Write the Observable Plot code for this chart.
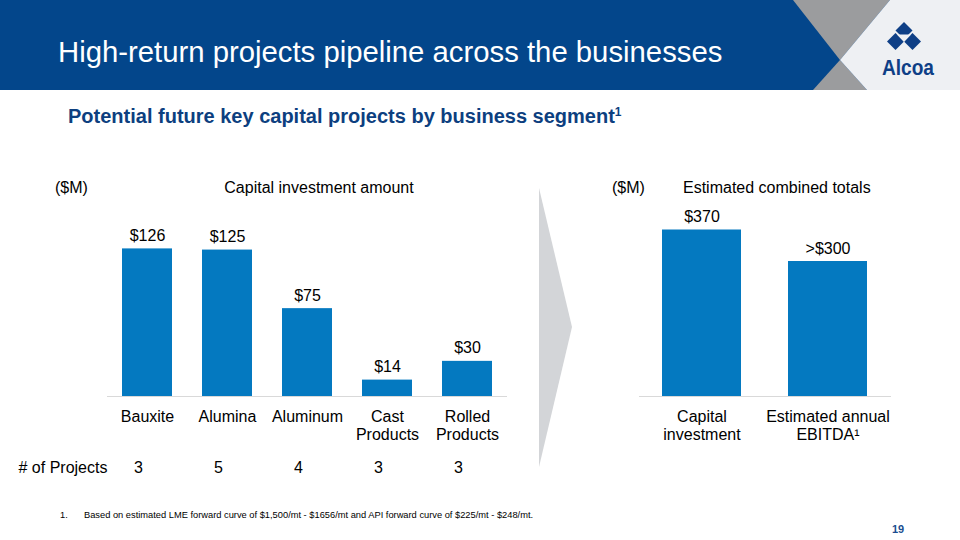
<!DOCTYPE html>
<html><head><meta charset="utf-8">
<script src="https://cdn.jsdelivr.net/npm/d3@7"></script>
<script src="https://cdn.jsdelivr.net/npm/@observablehq/plot@0.6"></script>
<style>
body{margin:0;background:#fff;font-family:"Liberation Sans",Arial,sans-serif;}
#page{position:relative;width:960px;height:540px;overflow:hidden;background:#fff;}
.abs{position:absolute;white-space:nowrap;line-height:1;}
sup{font-size:60%;vertical-align:0;position:relative;top:-0.55em;}
</style></head><body>
<div id="page">
<svg width="960" height="540" style="position:absolute;left:0;top:0">
  <rect x="0" y="0" width="960" height="90" fill="#03468b"/>
  <polygon points="793,0 890,0 840,60" fill="#9b9c9e"/>
  <polygon points="840,60 813,90 867,90" fill="#9b9c9e"/>
  <polygon points="890,0 960,0 960,90 867,90 840,60" fill="#eef0f3"/>
  <polygon points="904,22 912.5,30.5 904,39 895.5,30.5" fill="#0e3f86"/>
  <polygon points="895.5,33 904,41.5 895.5,50 887,41.5" fill="#0e3f86"/>
  <polygon points="912.5,33 921,41.5 912.5,50 904,41.5" fill="#0e3f86"/>
  <polygon points="897,34.5 911,34.5 904,42" fill="#eef0f3"/>
  <text x="882" y="75" font-family="Liberation Sans, Arial, sans-serif" font-weight="bold" font-size="22" fill="#0e3f86" textLength="52" lengthAdjust="spacingAndGlyphs">Alcoa</text>
  <polygon points="539,188 572,327 539,467" fill="#d3d5d8"/>
</svg>
<div class="abs" style="left:58px;top:37px;font-size:29.3px;color:#fff;">High-return projects pipeline across the businesses</div>
<div class="abs" style="left:68px;top:106px;font-size:20px;font-weight:bold;color:#0d3f7f;">Potential future key capital projects by business segment<sup>1</sup></div>
<div class="abs" style="left:55px;top:180px;font-size:16px;color:#000;">($M)</div>
<div class="abs" style="left:319px;top:180px;font-size:16px;color:#000;transform:translateX(-50%);">Capital investment amount</div>
<div class="abs" style="left:612px;top:180px;font-size:16px;color:#000;">($M)</div>
<div class="abs" style="left:683px;top:180px;font-size:16px;color:#000;">Estimated combined totals</div>
<div class="abs" style="left:60px;top:511px;font-size:9.3px;color:#000;">1.</div>
<div class="abs" style="left:84px;top:511px;font-size:9.3px;color:#000;">Based on estimated LME forward curve of $1,500/mt - $1656/mt and API forward curve of $225/mt - $248/mt.</div>
<div class="abs" style="left:892px;top:524px;font-size:11px;font-weight:bold;color:#1a4d8f;">19</div>
<div id="left" style="position:absolute;left:0;top:170px;"></div>
<div id="right" style="position:absolute;left:580px;top:170px;"></div>
</div>
<script>
// Left chart data
const segments = ["Bauxite", "Alumina", "Aluminum", "Cast Products", "Rolled Products"];
const segmentLabels = ["Bauxite", "Alumina", "Aluminum", "Cast\nProducts", "Rolled\nProducts"];
const capex = [126, 125, 75, 14, 30];
const projectCounts = [3, 5, 4, 3, 3];

// Right chart data
const totalsCategories = ["Capital investment", "Estimated annual EBITDA"];
const totalsLabels = ["Capital\ninvestment", "Estimated annual\nEBITDA\u00b9"];
const totalsValues = [370, 300];
const totalsText = ["$370", ">$300"];

const BAR = "#0479c0";
const FONT = "Liberation Sans, Arial, sans-serif";

const leftData = segments.map((s, i) => ({segment: s, value: capex[i], n: projectCounts[i]}));
const leftLabel = new Map(segments.map((s, i) => [s, segmentLabels[i]]));

const left = Plot.plot({
  width: 520, height: 310,
  marginLeft: 107, marginRight: 13, marginTop: 62, marginBottom: 84,
  style: {fontFamily: FONT, fontSize: "16px", background: "transparent", overflow: "visible", color: "#000"},
  x: {domain: segments, paddingInner: 0.375, paddingOuter: 0.1875, axis: null},
  y: {domain: [0, 140], axis: null},
  marks: [
    Plot.barY(leftData, {x: "segment", y: "value", fill: BAR}),
    Plot.ruleY([0], {stroke: "#d9d9d9", strokeWidth: 1}),
    Plot.text(leftData, {x: "segment", y: "value", text: d => "$" + d.value, dy: -8, lineAnchor: "bottom", fontSize: 16, fill: "#000"}),
    Plot.axisX({tickSize: 0, tickPadding: 13, fontSize: 16, lineHeight: 1.125, fill: "#000", tickFormat: d => leftLabel.get(d), label: null}),
    Plot.text(leftData, {x: "segment", text: "n", frameAnchor: "bottom", dy: 76, dx: -9, lineAnchor: "bottom", fontSize: 16, fill: "#000"}),
    Plot.text(["# of Projects"], {frameAnchor: "bottom-left", dx: -89, dy: 76, textAnchor: "start", lineAnchor: "bottom", fontSize: 16, fill: "#000"})
  ]
});
document.getElementById("left").appendChild(left);

const rightData = totalsCategories.map((c, i) => ({cat: c, value: totalsValues[i], label: totalsText[i]}));
const rightLabel = new Map(totalsCategories.map((c, i) => [c, totalsLabels[i]]));

const right = Plot.plot({
  width: 380, height: 310,
  marginLeft: 59, marginRight: 69, marginTop: 46, marginBottom: 84,
  style: {fontFamily: FONT, fontSize: "16px", background: "transparent", overflow: "visible", color: "#000"},
  x: {domain: totalsCategories, paddingInner: 0.373, paddingOuter: 0.1865, axis: null},
  y: {domain: [0, 400], axis: null},
  marks: [
    Plot.barY(rightData, {x: "cat", y: "value", fill: BAR}),
    Plot.ruleY([0], {stroke: "#d9d9d9", strokeWidth: 1}),
    Plot.text(rightData, {x: "cat", y: "value", text: "label", dy: -8, lineAnchor: "bottom", fontSize: 16, fill: "#000"}),
    Plot.axisX({tickSize: 0, tickPadding: 13, fontSize: 16, lineHeight: 1.125, fill: "#000", tickFormat: d => rightLabel.get(d), label: null})
  ]
});
document.getElementById("right").appendChild(right);
</script>
</body></html>
